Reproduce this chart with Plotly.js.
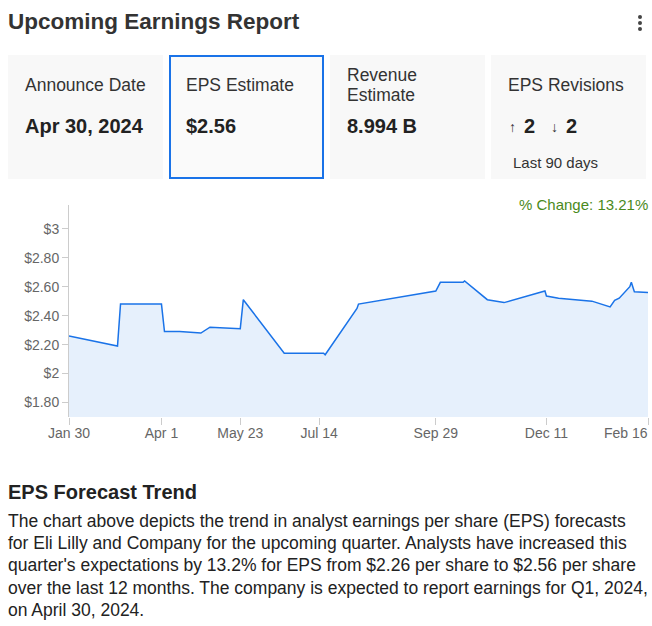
<!DOCTYPE html>
<html>
<head>
<meta charset="utf-8">
<script src="https://cdn.plot.ly/plotly-3.0.1.min.js"></script>
<style>
  body { margin: 0; width: 652px; height: 626px; background: #fff; font-family: Arial, "Liberation Sans", sans-serif; color: #333; position: relative; overflow: hidden; }
  .abs { position: absolute; white-space: nowrap; }
  .title { left: 8px; top: 8px; font-size: 22.5px; font-weight: bold; color: #333; line-height: 28px; }
  .dot { position: absolute; left: 638px; width: 4px; height: 4px; border-radius: 2px; background: #444; }
  .card { position: absolute; top: 55px; width: 155px; height: 124px; background: #f8f8f8; box-sizing: border-box; }
  .card.sel { background: #fafafa; border: 2px solid #1a73e8; }
  .lbl { position: absolute; left: 17px; font-size: 17.5px; line-height: 20px; color: #333; white-space: nowrap; }
  .val { position: absolute; left: 17px; font-size: 20px; font-weight: bold; color: #222; line-height: 24px; white-space: nowrap; }
  .arr { position: absolute; font-size: 14px; line-height: 24px; color: #333; }
  .sel .lbl, .sel .val { left: 15px; }
  #chart { position: absolute; left: 0; top: 190px; width: 652px; height: 260px; }
  .h2 { left: 8px; top: 480px; font-size: 20px; font-weight: bold; color: #222; line-height: 24px; }
  .para { left: 8px; top: 510px; font-size: 17.5px; line-height: 22.2px; color: #222; }
</style>
</head>
<body>
<div class="abs title">Upcoming Earnings Report</div>
<div class="dot" style="top:15px"></div>
<div class="dot" style="top:21px"></div>
<div class="dot" style="top:27px"></div>

<div class="card" style="left:8px">
  <div class="lbl" style="top:20px">Announce Date</div>
  <div class="val" style="top:59px">Apr 30, 2024</div>
</div>
<div class="card sel" style="left:169px">
  <div class="lbl" style="top:18px">EPS Estimate</div>
  <div class="val" style="top:57px">$2.56</div>
</div>
<div class="card" style="left:330px">
  <div class="lbl" style="top:10px">Revenue<br>Estimate</div>
  <div class="val" style="top:59px">8.994 B</div>
</div>
<div class="card" style="left:491px">
  <div class="lbl" style="top:20px">EPS Revisions</div>
  <div class="arr" style="top:60px;left:18px">&#8593;</div>
  <div class="val" style="top:59px;left:33px">2</div>
  <div class="arr" style="top:60px;left:60px">&#8595;</div>
  <div class="val" style="top:59px;left:75px">2</div>
  <div class="lbl" style="top:98px;left:22px;font-size:15px">Last 90 days</div>
</div>

<div id="chart"></div>

<div class="abs h2">EPS Forecast Trend</div>
<div class="abs para">The chart above depicts the trend in analyst earnings per share (EPS) forecasts<br>for Eli Lilly and Company for the upcoming quarter. Analysts have increased this<br>quarter's expectations by 13.2% for EPS from $2.26 per share to $2.56 per share<br>over the last 12 months. The company is expected to report earnings for Q1, 2024,<br>on April 30, 2024.</div>

<script>
const dates = ['2023-01-30', '2023-03-03', '2023-03-05', '2023-04-01', '2023-04-03', '2023-04-13', '2023-04-27',
    '2023-05-03', '2023-05-23', '2023-05-25', '2023-06-21', '2023-07-17', '2023-07-18', '2023-08-08', '2023-08-09',
    '2023-09-29', '2023-10-02', '2023-10-17', '2023-10-18', '2023-11-02', '2023-11-13', '2023-12-10', '2023-12-11',
    '2023-12-19', '2024-01-10', '2024-01-22', '2024-01-25', '2024-01-28', '2024-02-04', '2024-02-05', '2024-02-07',
    '2024-02-16'];
const eps = [2.26, 2.19, 2.48, 2.48, 2.29, 2.29, 2.28, 2.32, 2.31, 2.51, 2.14, 2.14, 2.13, 2.45, 2.48,
    2.57, 2.63, 2.63, 2.64, 2.51, 2.49, 2.57, 2.535, 2.52, 2.50, 2.46, 2.505, 2.52, 2.60, 2.63, 2.565, 2.56];

const x_tickvals = ['2023-01-30', '2023-04-01', '2023-05-23', '2023-07-14', '2023-09-29', '2023-12-11', '2024-02-16'];
const x_ticktext = ['Jan 30', 'Apr 1', 'May 23', 'Jul 14', 'Sep 29', 'Dec 11', 'Feb 16'];
const y_tickvals = [1.8, 2, 2.2, 2.4, 2.6, 2.8, 3];
const y_ticktext = ['$1.80', '$2', '$2.20', '$2.40', '$2.60', '$2.80', '$3'];
const pct_change = '% Change: 13.21%';

const font_family = 'Arial, "Liberation Sans", sans-serif';
const tickfont = {family: font_family, size: 14, color: '#666'};

// the last tick label would overflow the div, so it is drawn right-aligned as an annotation
const last = x_tickvals.length - 1;
const shown_ticktext = x_ticktext.map((t, i) => i === last ? '' : t);

const data = [{
    x: dates, y: eps, type: 'scatter', mode: 'lines',
    line: {color: '#1a73e8', width: 1.5},
    fill: 'tozeroy', fillcolor: '#e6f0fc',
    hoverinfo: 'skip',
}];

const layout = {
    width: 652,
    height: 260,
    margin: {l: 69, r: 4, t: 15, b: 33},
    paper_bgcolor: '#fff',
    plot_bgcolor: '#fff',
    showlegend: false,
    hovermode: false,
    xaxis: {
        type: 'date', range: ['2023-01-30', '2024-02-16'],
        tickvals: x_tickvals, ticktext: shown_ticktext,
        showgrid: false, zeroline: false, showline: false,
        ticks: 'outside', ticklen: 7, tickcolor: '#ccc', tickfont, ticklabelstandoff: -4,
    },
    yaxis: {
        range: [1.7, 3.164],
        tickvals: y_tickvals, ticktext: y_ticktext,
        showgrid: false, zeroline: false, showline: true, linecolor: '#ccc', linewidth: 1,
        ticks: 'outside', ticklen: 6, tickcolor: '#ccc', tickfont,
    },
    annotations: [{
        text: pct_change, xref: 'paper', yref: 'paper', x: 1, y: 1,
        xanchor: 'right', yanchor: 'middle', showarrow: false, yshift: 1, xshift: 2,
        font: {family: font_family, size: 15, color: '#4a8a1c'},
    }, {
        text: x_ticktext[last], xref: 'x', yref: 'paper', x: x_tickvals[last], y: 0,
        xanchor: 'right', yanchor: 'middle', showarrow: false, yshift: -16, xshift: 2,
        font: tickfont,
    }],
};

Plotly.newPlot('chart', data, layout, {displayModeBar: false, staticPlot: true});
</script>
</body>
</html>
